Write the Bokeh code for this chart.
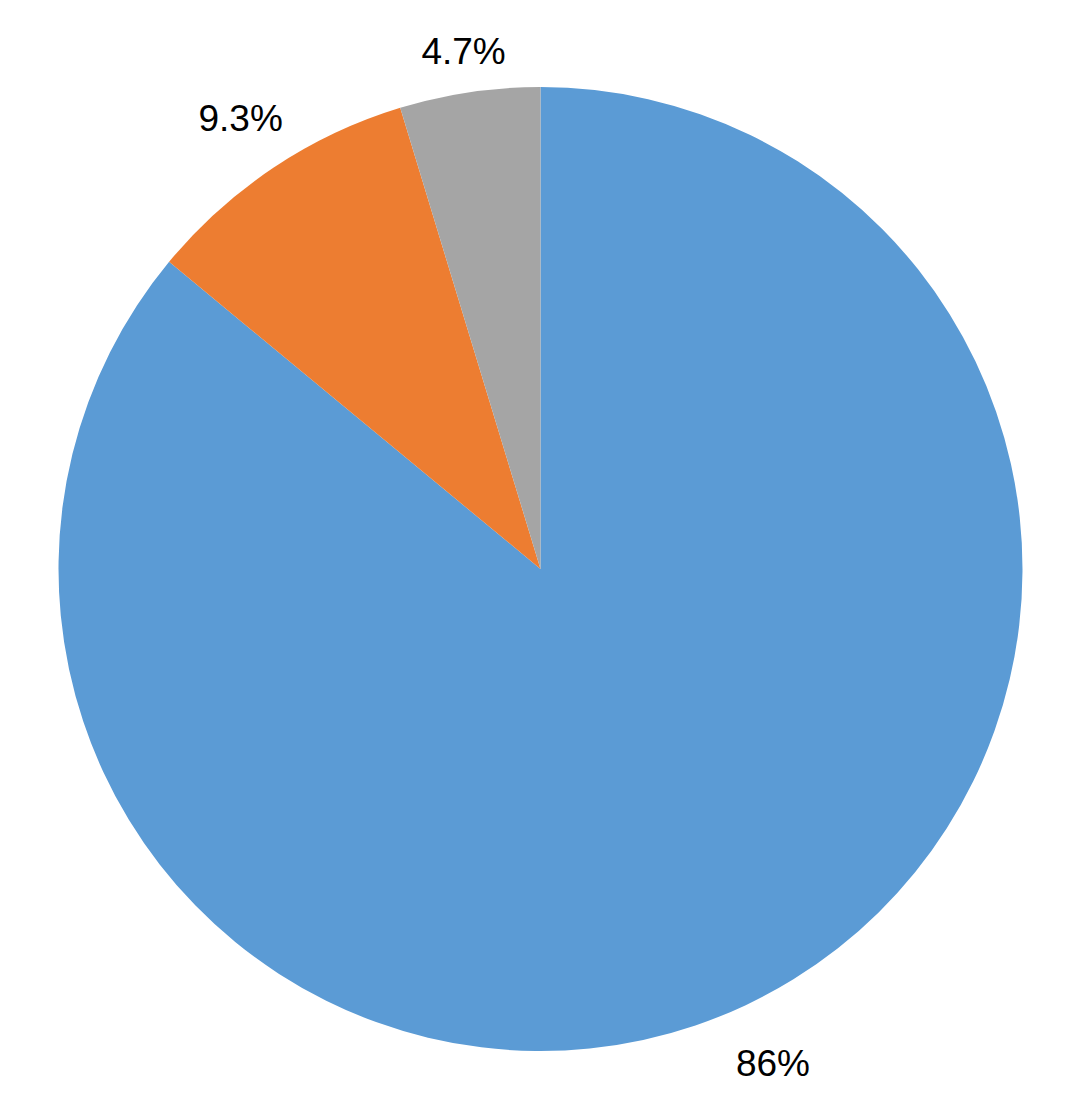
import math
from bokeh.plotting import figure
from bokeh.models import Range1d, ColumnDataSource
from bokeh.core.properties import value
from bokeh.embed import file_html
from bokeh.resources import INLINE

# Data
categories = ["A", "B", "C"]
shares = [86.0, 9.3, 4.7]
labels = ["86%", "9.3%", "4.7%"]
colors = ["#5B9BD5", "#ED7D31", "#A5A5A5"]

# Style / layout constants
RADIUS = 482
label_dist = [546, 541, 523]

total = sum(shares)
starts, ends, mids = [], [], []
cum = 0.0
for v in shares:
    a_end = math.pi / 2 - cum / total * 2 * math.pi
    cum += v
    a_start = math.pi / 2 - cum / total * 2 * math.pi
    starts.append(a_start)
    ends.append(a_end)
    mids.append((a_start + a_end) / 2)

src = ColumnDataSource(dict(cat=categories, start=starts, end=ends, color=colors))

p = figure(width=1072, height=1092, output_backend="svg", toolbar_location=None,
           x_range=Range1d(-540, 532), y_range=Range1d(-523.5, 568.5),
           min_border=0)
p.axis.visible = False
p.grid.visible = False
p.outline_line_color = None
p.background_fill_color = "white"

p.wedge(x=0, y=0, radius=RADIUS, start_angle="start", end_angle="end",
        fill_color="color", line_color=None, source=src)

lx = [d * math.cos(m) for d, m in zip(label_dist, mids)]
ly = [d * math.sin(m) for d, m in zip(label_dist, mids)]
p.text(x=lx, y=ly, text=labels, text_align="center", text_baseline="middle",
       text_font=value("Liberation Sans"), text_font_size="37px", text_color="black")

open("out.html", "w").write(file_html(p, INLINE))
